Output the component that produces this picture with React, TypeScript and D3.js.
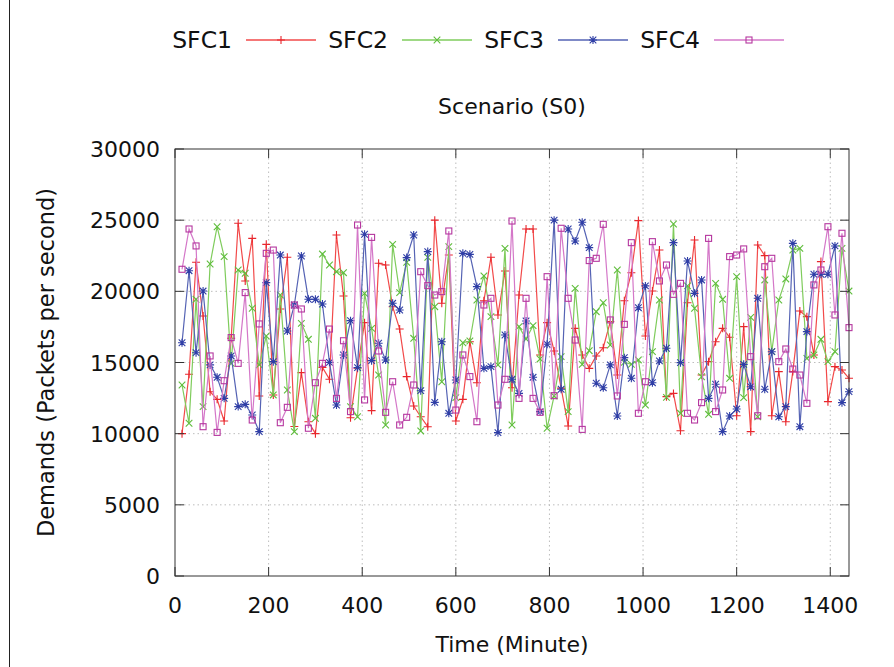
import * as d3 from "d3";

// sample times (minutes)
const minutes = [
  15, 30, 45, 60, 75, 90, 105, 120, 135, 150, 165, 180, 195, 210, 225, 240,
  255, 270, 285, 300, 315, 330, 345, 360, 375, 390, 405, 420, 435, 450, 465, 480,
  495, 510, 525, 540, 555, 570, 585, 600, 615, 630, 645, 660, 675, 690, 705, 720,
  735, 750, 765, 780, 795, 810, 825, 840, 855, 870, 885, 900, 915, 930, 945, 960,
  975, 990, 1005, 1020, 1035, 1050, 1065, 1080, 1095, 1110, 1125, 1140, 1155, 1170, 1185, 1200,
  1215, 1230, 1245, 1260, 1275, 1290, 1305, 1320, 1335, 1350, 1365, 1380, 1395, 1410, 1425, 1440,
];

const sfc1 = [
  10000, 14170, 22040, 18270, 12950, 12410, 10890, 16700, 24780, 20730, 23720, 12650, 23300, 12720, 18760, 22390,
  10500, 14290, 10840, 10000, 14660, 13820, 23960, 19670, 11120, 14600, 17800, 11620, 21970, 21850, 18920, 17350,
  14010, 11940, 11190, 10490, 25000, 19160, 22550, 10890, 12410, 16460, 13580, 19340, 22390, 18340, 21430, 13230,
  19740, 24380, 24380, 15530, 17800, 15810, 13200, 10540, 17400, 15530, 14590, 15460, 16040, 17870, 14120, 19340,
  21310, 24970, 16860, 20020, 22900, 12600, 12830, 10210, 19200, 23610, 14120, 15060, 16460, 17400, 16770, 11260,
  17520, 10140, 23260, 22510, 11260, 14360, 10840, 14360, 18620, 18220, 15530, 22090, 12250, 14710, 14470, 13890,
];

const sfc2 = [
  13420, 10730, 19440, 11900, 21920, 24540, 22440, 14940, 21500, 21270, 18810, 14830, 16860, 12720, 19740, 13070,
  10140, 17750, 16630, 11080, 22620, 21850, 21380, 21310, 11900, 11190, 19860, 17400, 14120, 10610, 23300, 19910,
  22040, 16700, 10190, 22390, 18920, 13650, 23140, 12530, 16390, 16510, 19390, 21080, 18220, 14830, 23020, 10610,
  17520, 16650, 17590, 15250, 10380, 12650, 15410, 11550, 20210, 14870, 15830, 18570, 19200, 16230, 21500, 15010,
  14870, 15180, 12010, 15760, 19390, 12550, 24730, 11430, 20380, 18810, 14000, 11360, 20560, 19440, 13890, 21030,
  12530, 18170, 11190, 20800, 15760, 19390, 20870, 22900, 23020, 15290, 15530, 16630, 15060, 15760, 23020, 20020,
];

const sfc3 = [
  16390, 21450, 15690, 20020, 14830, 13960, 12480, 15460, 11900, 12060, 11310, 10140, 20610, 15060, 22550, 17210,
  19040, 22480, 19440, 19440, 19110, 15010, 12010, 15530, 17940, 14640, 24010, 15130, 16350, 15180, 19160, 18690,
  22370, 23960, 13020, 22790, 12200, 16460, 11430, 13770, 22670, 22600, 20330, 14590, 14710, 10070, 16930, 13820,
  12830, 17920, 13960, 11550, 16280, 25000, 13120, 24380, 23540, 24850, 23070, 13540, 13230, 14830, 11240, 15340,
  13890, 18850, 20380, 13580, 15110, 16000, 23420, 14990, 22130, 19860, 20800, 12480, 13470, 10140, 11240, 11730,
  14870, 13300, 19510, 13120, 15760, 11190, 11900, 23370, 10490, 17170, 21200, 21200, 21200, 23190, 12180, 12950,
];

const sfc4 = [
  21550, 24380, 23190, 10490, 15460, 10090, 13720, 16750, 14940, 19910, 10960, 17710, 22670, 22900, 10770, 11850,
  19040, 18760, 10380, 13580, 14940, 17350, 12480, 16530, 11550, 24660, 12370, 23790, 15810, 11500, 13650, 10610,
  11150, 13420, 21380, 20400, 19740, 19980, 24240, 11660, 15530, 14010, 10840, 19040, 19510, 12010, 13820, 24940,
  12480, 19510, 12480, 11500, 21030, 12670, 24430, 19510, 16580, 10300, 22160, 22320, 24710, 17990, 12650, 17680,
  23420, 11430, 13650, 23490, 20730, 21850, 19790, 20560, 11430, 10960, 12180, 23720, 11550, 13070, 22440, 22550,
  22980, 15410, 11260, 21730, 22320, 15060, 15950, 14540, 14120, 12130, 20450, 21500, 24540, 18340, 24080, 17450,
];

const seriesNames = ["SFC1", "SFC2", "SFC3", "SFC4"];
const xTicks = [0, 200, 400, 600, 800, 1000, 1200, 1400];
const yTicks = [0, 5000, 10000, 15000, 20000, 25000, 30000];

const lineColors = ["#f24a4a", "#7fcc5c", "#5563b4", "#d477c8"];
const markColors = ["#e8262c", "#5fbd3c", "#2f3ea6", "#b5379f"];
const markers = ["plus", "cross", "star", "square"];

const FONT = "DejaVu Sans, Verdana, sans-serif";

const Marker = ({ kind, x, y, color }: { kind: string; x: number; y: number; color: string }) => {
  const s = 4;
  if (kind === "square") {
    return <rect x={x - 3} y={y - 3} width={6} height={6} fill="none" stroke={color} strokeWidth={1.1} />;
  }
  let d = "";
  if (kind === "plus" || kind === "star") d += `M${x - s},${y}H${x + s}M${x},${y - s}V${y + s}`;
  if (kind === "cross" || kind === "star") {
    const c = 3.3;
    d += `M${x - c},${y - c}L${x + c},${y + c}M${x - c},${y + c}L${x + c},${y - c}`;
  }
  return <path d={d} stroke={color} strokeWidth={1.1} fill="none" />;
};

export default function App() {
  const W = 894;
  const H = 667;
  const left = 175, right = 849, top = 149, bottom = 576;

  const x = d3.scaleLinear().domain([0, 1440]).range([left, right]);
  const y = d3.scaleLinear().domain([0, 30000]).range([bottom, top]);

  const allSeries = [sfc1, sfc2, sfc3, sfc4];
  const line = d3
    .line<number>()
    .x((_, i) => x(minutes[i]))
    .y((v) => y(v));

  const tick = 9;

  return (
    <svg
      width={W}
      height={H}
      style={{ position: "absolute", left: 0, top: 0, background: "#fff" }}
      fontFamily={FONT}
    >
      <rect x={0} y={0} width={W} height={H} fill="#fff" />
      <line x1={9.5} x2={9.5} y1={0} y2={H} stroke="#222" strokeWidth={1} />

      {/* grid */}
      {xTicks.filter((t) => t > 0).map((t) => (
        <line key={"gx" + t} x1={x(t)} x2={x(t)} y1={top} y2={bottom}
          stroke="#bdbdbd" strokeWidth={1} strokeDasharray="1.5,3" />
      ))}
      {yTicks.filter((t) => t > 0 && t < 30000).map((t) => (
        <line key={"gy" + t} x1={left} x2={right} y1={y(t)} y2={y(t)}
          stroke="#bdbdbd" strokeWidth={1} strokeDasharray="1.5,3" />
      ))}

      {/* series */}
      {allSeries.map((s, si) => (
        <g key={"s" + si}>
          <path d={line(s) || ""} fill="none" stroke={lineColors[si]} strokeWidth={1.2} />
          {s.map((v, i) => (
            <Marker key={i} kind={markers[si]} x={x(minutes[i])} y={y(v)} color={markColors[si]} />
          ))}
        </g>
      ))}

      {/* frame and ticks */}
      <rect x={left} y={top} width={right - left} height={bottom - top} fill="none" stroke="#333" strokeWidth={1} />
      {yTicks.map((t) => (
        <g key={"ty" + t}>
          <line x1={left} x2={left + tick} y1={y(t)} y2={y(t)} stroke="#333" />
          <line x1={right - tick} x2={right} y1={y(t)} y2={y(t)} stroke="#333" />
          <text x={160} y={y(t) + 8} textAnchor="end" fontSize={22} fill="#111">{t}</text>
        </g>
      ))}
      {xTicks.map((t) => (
        <g key={"tx" + t}>
          <line x1={x(t)} x2={x(t)} y1={bottom} y2={bottom - tick} stroke="#333" />
          <line x1={x(t)} x2={x(t)} y1={top} y2={top + tick} stroke="#333" />
          <text x={x(t)} y={613} textAnchor="middle" fontSize={22} fill="#111">{t}</text>
        </g>
      ))}

      {/* labels */}
      <text x={(left + right) / 2} y={114} textAnchor="middle" fontSize={22} fill="#111">Scenario (S0)</text>
      <text x={(left + right) / 2} y={652} textAnchor="middle" fontSize={22} fill="#111">Time (Minute)</text>
      <text transform={`translate(54, ${(top + bottom) / 2}) rotate(-90)`} textAnchor="middle" fontSize={22.5} fill="#111">
        Demands (Packets per second)
      </text>

      {/* legend */}
      {seriesNames.map((n, i) => {
        const tx = 232 + i * 156;
        const lx0 = tx + 14, lx1 = tx + 84;
        return (
          <g key={"lg" + n}>
            <text x={tx} y={48} textAnchor="end" fontSize={23.5} fill="#111">{n}</text>
            <line x1={lx0} x2={lx1} y1={40} y2={40} stroke={lineColors[i]} strokeWidth={1.6} />
            <Marker kind={markers[i]} x={(lx0 + lx1) / 2} y={40} color={markColors[i]} />
          </g>
        );
      })}
    </svg>
  );
}
